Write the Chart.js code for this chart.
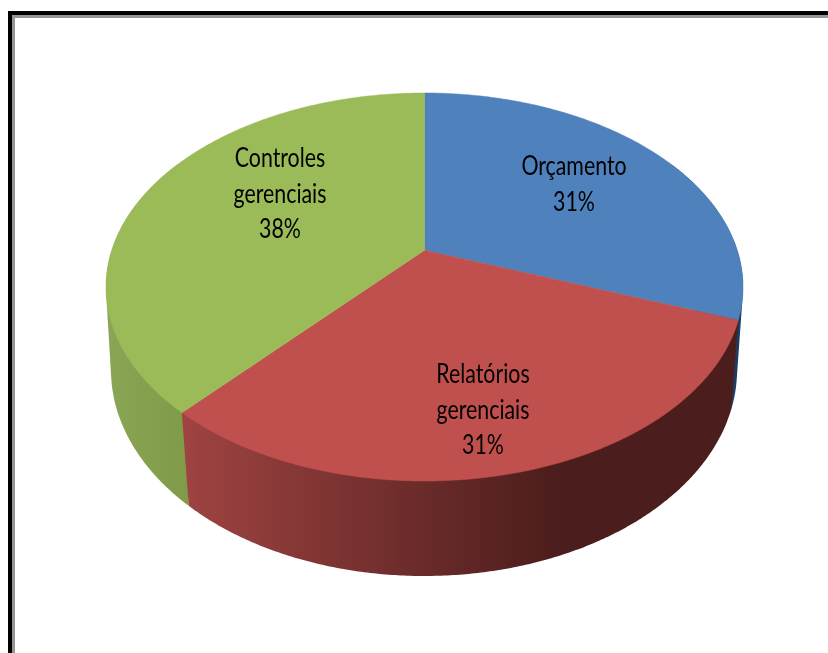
<!DOCTYPE html>
<html><head><meta charset="utf-8">
<style>html,body{margin:0;padding:0;background:#fff}canvas{display:block}</style>
<script src="https://cdn.jsdelivr.net/npm/chart.js@4"></script>
</head><body><canvas id="c" width="828" height="653"></canvas>
<script>
const categories = ['Orçamento', 'Relatórios gerenciais', 'Controles gerenciais'];
const shares = [30.7, 30.9, 38.4];
const faceColors = ['#4f81bd', '#c0504d', '#9bbb59'];

// perspective view of the disc
const TOP = {cx: 424.5, cy: 287, rx: 318.5, ry: 194, a: -0.19};
const BOT = {cx: 424, cy: 370, rx: 313, ry: 206, a: -0.17};
const VIS_MIN = -Math.PI / 6, VIS_MAX = Math.PI * 7 / 6;

function proj(E, t) {
  const c = Math.cos(t), s = Math.sin(t), d = 1 + E.a * s;
  return [E.cx + E.rx * c * Math.sqrt(1 - E.a * E.a) / d, E.cy + E.ry * (s + E.a) / d];
}
function samples(E, a0, a1) {
  const n = Math.max(2, Math.ceil(Math.abs(a1 - a0) * 120)), out = [];
  for (let i = 0; i <= n; i++) out.push(proj(E, a0 + (a1 - a0) * i / n));
  return out;
}
function hull(pts) {
  const p = pts.slice().sort((u, v) => u[0] - v[0] || u[1] - v[1]);
  const cr = (o, u, v) => (u[0]-o[0])*(v[1]-o[1]) - (u[1]-o[1])*(v[0]-o[0]);
  const lo = [], up = [];
  for (const q of p) { while (lo.length > 1 && cr(lo[lo.length-2], lo[lo.length-1], q) <= 0) lo.pop(); lo.push(q); }
  for (const q of p.slice().reverse()) { while (up.length > 1 && cr(up[up.length-2], up[up.length-1], q) <= 0) up.pop(); up.push(q); }
  return lo.slice(0, -1).concat(up.slice(0, -1));
}
function trace(ctx, pts) {
  ctx.beginPath();
  pts.forEach((q, i) => i ? ctx.lineTo(q[0], q[1]) : ctx.moveTo(q[0], q[1]));
  ctx.closePath();
}
function wallPaint(ctx, i) {
  if (i === 0) return '#1d3c61';
  const g = ctx.createLinearGradient(i === 1 ? 186 : 108, 0, i === 1 ? 560 : 190, 0);
  if (i === 1) { g.addColorStop(0, '#9e4341'); g.addColorStop(1, '#4b1d1c'); }
  else { g.addColorStop(0, '#8aa555'); g.addColorStop(1, '#7f9b48'); }
  return g;
}

const labelLines = [['Orçamento'], ['Relatórios', 'gerenciais'], ['Controles', 'gerenciais']];
const labelAnchors = [[574, 167], [483, 375], [280, 159]];

const pie3d = {
  id: 'pie3d',
  beforeDraw(chart) {
    const ctx = chart.ctx;
    ctx.save();
    ctx.fillStyle = '#fff'; ctx.fillRect(0, 0, 828, 653);
    ctx.fillStyle = '#000'; ctx.fillRect(8, 11, 820, 4); ctx.fillRect(8, 11, 4, 642);
    ctx.fillStyle = '#959595'; ctx.fillRect(12, 15, 816, 3); ctx.fillRect(12, 15, 3, 638);
    ctx.restore();
  },
  beforeDatasetsDraw(chart) {
    const ctx = chart.ctx, arcs = chart.getDatasetMeta(0).data;
    ctx.save();
    // side wall
    [0, 2, 1].forEach(i => {
      const a0 = Math.max(arcs[i].startAngle, VIS_MIN), a1 = Math.min(arcs[i].endAngle, VIS_MAX);
      if (a1 <= a0) return;
      trace(ctx, hull(samples(TOP, a0, a1).concat(samples(BOT, a0, a1))));
      ctx.fillStyle = wallPaint(ctx, i);
      ctx.fill();
    });
    // top face
    arcs.forEach((arc, i) => {
      trace(ctx, [[TOP.cx, TOP.cy + TOP.ry * TOP.a]].concat(samples(TOP, arc.startAngle, arc.endAngle)));
      ctx.fillStyle = faceColors[i];
      ctx.strokeStyle = faceColors[i];
      ctx.lineWidth = 0.5;
      ctx.fill(); ctx.stroke();
    });
    // labels
    ctx.fillStyle = '#000';
    ctx.textAlign = 'center';
    ctx.textBaseline = 'middle';
    ctx.font = '26px Lato';
    ctx.filter = 'blur(0.45px)';
    const total = shares.reduce((s, v) => s + v, 0);
    labelLines.forEach((lines, i) => {
      const text = lines.concat(Math.round(shares[i] / total * 100) + '%');
      const [x, y] = labelAnchors[i];
      text.forEach((t, j) => {
        ctx.save();
        ctx.translate(x, y + j * 35.5);
        ctx.scale(0.82, 1);
        ctx.fillText(t, 0, 0);
        ctx.restore();
      });
    });
    ctx.restore();
    return false;
  }
};

new Chart(document.getElementById('c'), {
  type: 'pie',
  data: {labels: categories, datasets: [{data: shares, backgroundColor: faceColors, borderWidth: 0}]},
  options: {
    responsive: false, animation: false,
    plugins: {legend: {display: false}, tooltip: {enabled: false}}
  },
  plugins: [pie3d]
});
</script></body></html>
